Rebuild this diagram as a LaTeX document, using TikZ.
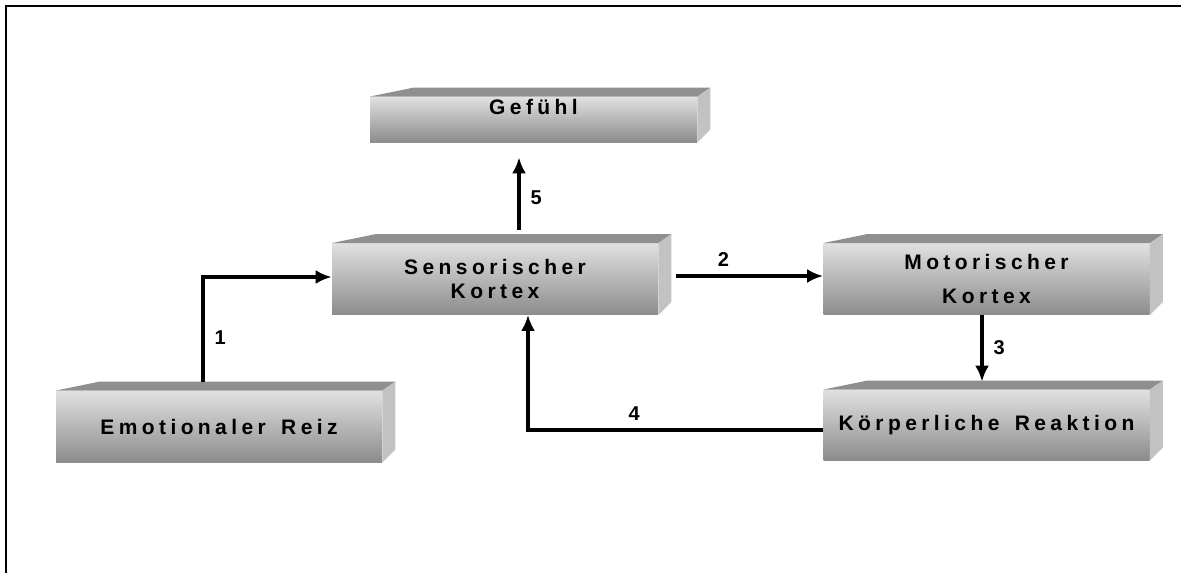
\documentclass[tikz,border=0pt]{standalone}
\usepackage{fontspec}
\setmainfont{Liberation Sans}
\newfontfamily\kastenfont[LetterSpace=21, WordSpace=1.5]{Liberation Sans}
\usetikzlibrary{positioning,arrows.meta}
\definecolor{hell}{gray}{0.88}
\definecolor{dunkel}{gray}{0.55}
\definecolor{deckelgrau}{gray}{0.56}
\definecolor{seitengrau}{gray}{0.76}
\tikzset{>={Latex[length=8pt,width=7pt]}}
\tikzset{
  kasten/.style={inner sep=0pt, minimum width=163pt, minimum height=35.5pt,
    top color=hell, bottom color=dunkel, align=center,
    font=\kastenfont\bfseries\fontsize{10.5}{12}\selectfont},
  deckel/.style={fill=deckelgrau},
  seite/.style={fill=seitengrau},
  pfeil/.style={->, line width=1.6pt},
  nummer/.style={inner sep=0pt, font=\bfseries\fontsize{10}{11}\selectfont}
}
% top and right face of a block
\newcommand{\quader}[1]{%
  \fill[deckel] (#1.north west) -- ++(22pt,4.5pt) -- ([shift={(6.5pt,4.5pt)}]#1.north east) -- (#1.north east) -- cycle;
  \fill[seite] (#1.north east) -- ++(6.5pt,4.5pt) -- ([shift={(6.5pt,6.5pt)}]#1.south east) -- (#1.south east) -- cycle;}

\begin{document}
\begin{tikzpicture}[x=0.5pt, y=-0.5pt]
  \useasboundingbox (0,0) rectangle (1181,573);
  \draw[line width=1.2pt] (6,573) -- (6,6) -- (1181,6);

  \node[kasten] (sens) at (495,279) {Sensorischer\\[0pt]Kortex};
  \node[kasten, right of=sens, node distance=245.75pt] (mot) {Motorischer\\[5pt]Kortex};
  \node[kasten, below of=mot, node distance=73pt, minimum height=35pt] (koer) {Körperliche Reaktion};
  \node[kasten] (emo) at (219,426.5) {Emotionaler Reiz};
  \node[kasten, minimum width=163.5pt, minimum height=22.5pt] (gef) at (533.5,119.5) {\raisebox{2.5pt}[0pt][0pt]{Gefühl}};
  \foreach \n in {sens,mot,koer,emo,gef} {\quader{\n}}

  \coordinate (aux5) at ([xshift=-7.25pt,yshift=-7.5pt]gef.south);
  \draw[pfeil] ([shift={(-8pt,4.5pt)}]emo.north) |- node[nummer, pos=0.21, right=5pt]{1} ([yshift=1pt]sens.west);
  \draw[pfeil] ([shift={(9pt,1.5pt)}]sens.east) -- node[nummer, pos=0.32, above=4pt]{2} ([yshift=1.5pt]mot.west);
  \draw[pfeil] ([xshift=-2.25pt]mot.south) -- node[nummer, pos=0.49, right=5pt]{3} ([shift={(-2.25pt,4pt)}]koer.north);
  \draw[pfeil] ([yshift=-2.5pt]koer.west) -| node[nummer, pos=0.32, above=4pt]{4} ([xshift=16.5pt]sens.south);
  \draw[pfeil] ([shift={(12pt,6.5pt)}]sens.north) -- node[nummer, pos=0.44, right=5pt]{5} (aux5);
\end{tikzpicture}
\end{document}
